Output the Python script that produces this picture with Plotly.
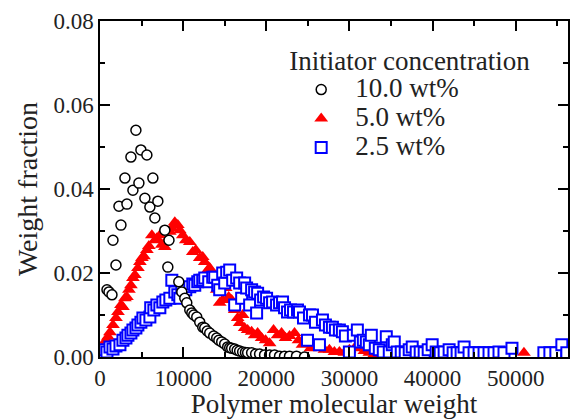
import plotly.graph_objects as go

# 10.0 wt%
mw_10 = [840, 1080, 1440, 1560, 1920, 2280, 2520, 3000, 3240, 3720, 3960, 4320, 4680, 4920,
         5400, 5640, 6000, 6360, 6600, 6960, 7800, 8160, 8300, 9480, 9840, 10200, 10440, 10800,
         11050, 11280, 11640, 12000, 12360, 12600, 12900, 13200, 13680, 14040, 14300, 14640, 15000,
         15360, 15600, 15840, 16200, 16500, 16800, 17160, 17500, 17760, 18240, 18720, 19200, 19800,
         20400, 21000, 21600, 22200, 22800, 23640, 24600]
wf_10 = [0.0160, 0.0155, 0.0148, 0.0278, 0.0219, 0.0359, 0.0314, 0.0426, 0.0364, 0.0476, 0.0397,
         0.0540, 0.0414, 0.0493, 0.0378, 0.0481, 0.0357, 0.0426, 0.0331, 0.0371, 0.0302, 0.0214,
         0.0278, 0.0179, 0.0155, 0.0140, 0.0129, 0.0112, 0.0105, 0.0100, 0.0095, 0.0083, 0.0071,
         0.0069, 0.0062, 0.0057, 0.0050, 0.0045, 0.0040, 0.0036, 0.0031, 0.0024, 0.0022, 0.0021,
         0.0019, 0.0016, 0.0014, 0.0012, 0.0011, 0.0010, 0.0010, 0.0007, 0.0007, 0.0005, 0.0005,
         0.0005, 0.0002, 0.0002, 0.0002, 0.0002, 0.0000]

# 5.0 wt%
mw_5 = [480, 720, 960, 1200, 1560, 1920, 2160, 2520, 2760, 3000, 3240, 3480, 3720, 3960, 4200,
        4560, 4800, 5040, 5280, 5640, 5880, 6240, 6600, 6840, 7200, 7440, 7800, 8040, 8400, 8640,
        9000, 9360, 9600, 9960, 10320, 10800, 11160, 11520, 12000, 12360, 12600, 12960, 13200,
        13560, 14040, 14400, 14760, 15120, 15480, 15840, 16200, 16560, 16800, 17160, 17400, 17760,
        18240, 18600, 18960, 19440, 19920, 20400, 20880, 21360, 21840, 22320, 22800, 23400, 23880,
        24360, 24840, 25320, 25800, 26400, 27000, 27600, 28200, 28800, 29400, 30000, 30600, 31200,
        31800, 32400, 33000, 33600, 34200, 51000]
wf_5 = [0.0029, 0.0040, 0.0048, 0.0059, 0.0076, 0.0093, 0.0107, 0.0124, 0.0119, 0.0140, 0.0143,
        0.0160, 0.0171, 0.0188, 0.0195, 0.0212, 0.0226, 0.0236, 0.0240, 0.0255, 0.0264, 0.0290,
        0.0278, 0.0283, 0.0290, 0.0267, 0.0262, 0.0278, 0.0298, 0.0307, 0.0321, 0.0314, 0.0302,
        0.0290, 0.0278, 0.0274, 0.0250, 0.0255, 0.0236, 0.0238, 0.0226, 0.0207, 0.0212, 0.0183,
        0.0160, 0.0129, 0.0136, 0.0164, 0.0143, 0.0136, 0.0112, 0.0093, 0.0081, 0.0100, 0.0069,
        0.0064, 0.0060, 0.0052, 0.0057, 0.0045, 0.0040, 0.0033, 0.0064, 0.0052, 0.0057, 0.0045,
        0.0050, 0.0057, 0.0040, 0.0029, 0.0036, 0.0021, 0.0029, 0.0024, 0.0017, 0.0017, 0.0012,
        0.0012, 0.0010, 0.0017, 0.0021, 0.0024, 0.0014, 0.0010, 0.0007, 0.0007, 0.0002, 0.0010]

# 2.5 wt%
mw_25 = [360, 600, 840, 1200, 1560, 1920, 2400, 2760, 3120, 3360, 3720, 3960, 4320, 4560, 4920,
         5160, 5520, 6000, 6100, 6480, 6840, 7200, 7560, 7920, 8400, 8640, 9000, 9360, 9600, 9840,
         10320, 10800, 11160, 11400, 11760, 12000, 12360, 12600, 13080, 13560, 13800, 14160, 14400,
         14760, 15000, 15240, 15600, 15960, 16200, 16440, 16800, 17040, 17400, 17640, 18000, 18240,
         18600, 18840, 18960, 19320, 19680, 20040, 20400, 20760, 21240, 21600, 21960, 22200, 22560,
         22920, 23280, 23760, 24000, 24480, 24960, 25200, 25560, 25920, 26400, 26760, 27120, 27600,
         27960, 28320, 28800, 29160, 29520, 30000, 30480, 30960, 31320, 31680, 32040, 32400, 32640,
         33120, 33600, 34080, 34440, 34800, 35160, 35400, 35760, 36240, 36720, 37200, 37560, 38040,
         38520, 39000, 39480, 39960, 40440, 40920, 41400, 42000, 42480, 42960, 43440, 43800, 44400,
         45000, 45600, 46200, 46800, 47400, 48000, 48600, 49560, 53400, 54120, 54840, 55560, 56160]
wf_25 = [0.0010, 0.0017, 0.0012, 0.0024, 0.0019, 0.0026, 0.0029, 0.0040, 0.0045, 0.0052, 0.0057,
         0.0064, 0.0069, 0.0076, 0.0083, 0.0093, 0.0088, 0.0095, 0.0117, 0.0112, 0.0124, 0.0117,
         0.0131, 0.0136, 0.0140, 0.0183, 0.0155, 0.0148, 0.0140, 0.0164, 0.0160, 0.0167, 0.0174,
         0.0171, 0.0179, 0.0183, 0.0183, 0.0188, 0.0179, 0.0190, 0.0190, 0.0171, 0.0160, 0.0200,
         0.0176, 0.0202, 0.0207, 0.0183, 0.0124, 0.0188, 0.0176, 0.0140, 0.0176, 0.0164, 0.0124,
         0.0160, 0.0155, 0.0105, 0.0152, 0.0136, 0.0143, 0.0140, 0.0129, 0.0131, 0.0124, 0.0129,
         0.0131, 0.0117, 0.0107, 0.0112, 0.0107, 0.0112, 0.0107, 0.0093, 0.0040, 0.0100, 0.0100,
         0.0083, 0.0029, 0.0088, 0.0076, 0.0071, 0.0071, 0.0064, 0.0064, 0.0060, 0.0050, 0.0012,
         0.0052, 0.0064, 0.0036, 0.0040, 0.0036, 0.0029, 0.0052, 0.0021, 0.0017, 0.0012, 0.0048,
         0.0012, 0.0029, 0.0036, 0.0012, 0.0012, 0.0010, 0.0017, 0.0024, 0.0012, 0.0012, 0.0010,
         0.0017, 0.0029, 0.0012, 0.0010, 0.0012, 0.0017, 0.0010, 0.0010, 0.0010, 0.0024, 0.0010,
         0.0010, 0.0010, 0.0010, 0.0010, 0.0010, 0.0012, 0.0010, 0.0021, 0.0010, 0.0010, 0.0010,
         0.0029, 0.0010]

series_names = ["10.0 wt%", "5.0 wt%", "2.5 wt%"]
legend_title = "Initiator concentration"
x_title = "Polymer molecular weight"
y_title = "Weight fraction"
x_ticks = [0, 10000, 20000, 30000, 40000, 50000]
y_ticks = [0.00, 0.02, 0.04, 0.06, 0.08]

FONT = "Liberation Serif"
TXT = "#222"


def big(s):
    return '<span style="font-size:27px">' + s + "</span>"


fig = go.Figure()
fig.add_trace(go.Scatter(
    x=mw_5, y=wf_5, mode="markers", name=big(series_names[1]), legendrank=2,
    marker=dict(symbol="triangle-up", size=12, color="#ff0000", line=dict(width=0))))
fig.add_trace(go.Scatter(
    x=mw_25, y=wf_25, mode="markers", name=big(series_names[2]), legendrank=3,
    marker=dict(symbol="square", size=11, color="white", line=dict(color="#0000ff", width=2))))
fig.add_trace(go.Scatter(
    x=mw_10, y=wf_10, mode="markers", name=big(series_names[0]), legendrank=1,
    marker=dict(symbol="circle", size=10, color="white", line=dict(color="black", width=1.5))))

axis_common = dict(
    showline=True, linecolor="black", linewidth=1.5, mirror="ticks",
    ticks="inside", ticklen=10, tickwidth=1.5, tickcolor="black",
    showgrid=False, zeroline=False,
    tickfont=dict(family=FONT, size=23, color=TXT),
)

fig.update_xaxes(
    range=[0, 56300], tickvals=x_ticks, tickformat="d",
    minor=dict(dtick=5000, tick0=0, ticks="inside", ticklen=5, tickwidth=1.5, tickcolor="black"),
    title=dict(text=x_title, font=dict(family=FONT, size=27, color=TXT), standoff=0),
    **axis_common)
fig.update_yaxes(
    range=[0, 0.08], tickvals=y_ticks, tickformat=".2f",
    minor=dict(dtick=0.01, tick0=0, ticks="inside", ticklen=5, tickwidth=1.5, tickcolor="black"),
    title=dict(text=y_title, font=dict(family=FONT, size=28, color=TXT), standoff=8),
    **axis_common)

fig.update_layout(
    width=572, height=419,
    margin=dict(l=100, r=2, t=21, b=62),
    paper_bgcolor="white", plot_bgcolor="white",
    font=dict(family=FONT, color=TXT),
    showlegend=True,
    legend=dict(
        x=(288 - 100) / 470.0, y=(357 - 35) / 336.0, yanchor="top",
        title=dict(text=legend_title, font=dict(family=FONT, size=27, color=TXT)),
        font=dict(family=FONT, size=20, color=TXT),
        itemwidth=58, bgcolor="rgba(0,0,0,0)", tracegroupgap=0,
    ),
)

fig.write_html("out.html", config={"displayModeBar": False},
               post_script="document.body.style.margin='0';")
